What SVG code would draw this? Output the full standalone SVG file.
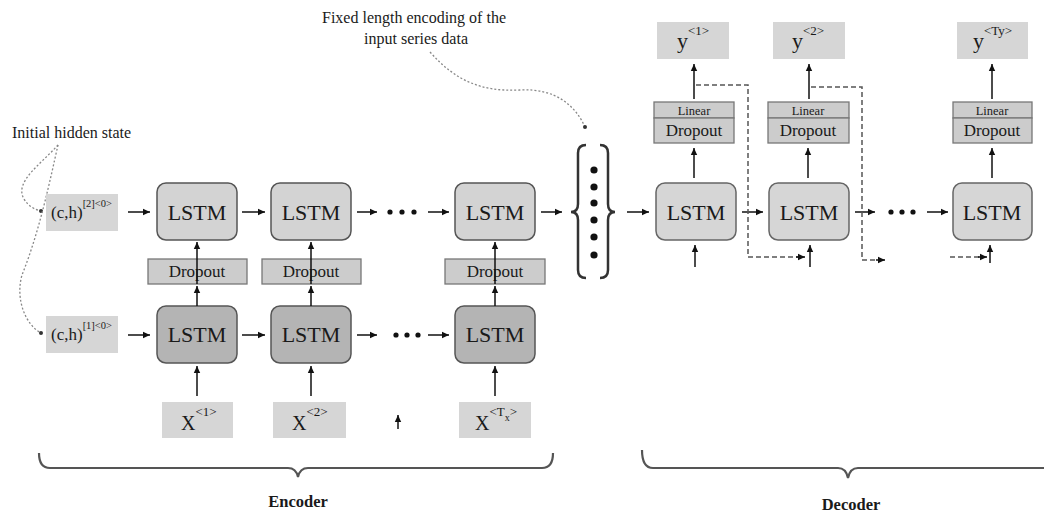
<svg xmlns="http://www.w3.org/2000/svg" width="1044" height="515" viewBox="0 0 1044 515">
<defs>
<marker id="ah" markerUnits="userSpaceOnUse" markerWidth="8" markerHeight="8" refX="7" refY="4" orient="auto"><path d="M0,0.8 L7,4 L0,7.2 Z" fill="#111"/></marker>
<marker id="dot" markerUnits="userSpaceOnUse" markerWidth="6" markerHeight="6" refX="3" refY="3"><circle cx="3" cy="3" r="2" fill="#333"/></marker>
<style>
text{font-family:"Liberation Serif","Times New Roman",serif;fill:#1a1a1a}
.lstmU{fill:#d3d3d3;stroke:#555;stroke-width:1.5}
.lstmL{fill:#b4b4b4;stroke:#555;stroke-width:1.5}
.lstmD{fill:#d6d6d6;stroke:#666;stroke-width:1.5}
.lbl{fill:#d6d6d6}
.drop{fill:#cccccc;stroke:#777;stroke-width:1.3}
.t22{font-size:22px;text-anchor:middle}
.t17{font-size:17px;text-anchor:middle}
.arr{stroke:#111;stroke-width:1.5;fill:none;marker-end:url(#ah)}
.dash{stroke:#555;stroke-width:1.5;fill:none;stroke-dasharray:5 3}
.dotted{stroke:#888;stroke-width:1.3;fill:none;stroke-dasharray:2 2}
.brk{stroke:#555;stroke-width:2.2;fill:none}
</style>
</defs>
<rect width="1044" height="515" fill="#fff"/>

<!-- annotations -->
<g id="annot-initial">
<text x="12" y="138" style="font-size:16px">Initial hidden state</text>
<path class="dotted" d="M58,145 C40,165 14,182 24,199 C29,207 36,210 41,211" marker-end="url(#dot)"/>
<path class="dotted" d="M58,145 C50,180 40,230 22,275 C15,300 26,325 41,333" marker-end="url(#dot)"/>
</g>
<g id="annot-fixed">
<text x="414" y="23" style="font-size:16px;text-anchor:middle">Fixed length encoding of  the</text>
<text x="416" y="44" style="font-size:16px;text-anchor:middle">input series data</text>
<path class="dotted" d="M430,52 C455,80 480,92 520,90 C555,88 575,105 585,127" marker-end="url(#dot)"/>
</g>

<!-- encoder nodes -->
<g id="ch2"><rect class="lbl" x="46" y="194" width="72" height="37"/><text x="51" y="218" style="font-size:17px">(c,h)<tspan dy="-11" style="font-size:10.5px">[2]&lt;0&gt;</tspan></text></g>
<g id="ch1"><rect class="lbl" x="46" y="316" width="72" height="37"/><text x="51" y="340" style="font-size:17px">(c,h)<tspan dy="-11" style="font-size:10.5px">[1]&lt;0&gt;</tspan></text></g>

<g id="encU1"><rect class="lstmU" x="157" y="183" width="80" height="57" rx="9"/><text class="t22" x="197" y="220">LSTM</text></g>
<g id="encU2"><rect class="lstmU" x="271" y="183" width="80" height="57" rx="9"/><text class="t22" x="311" y="220">LSTM</text></g>
<g id="encU3"><rect class="lstmU" x="455" y="183" width="80" height="57" rx="9"/><text class="t22" x="495" y="220">LSTM</text></g>

<g id="encD1"><rect class="drop" x="148" y="259" width="99" height="25"/><text class="t17" x="197" y="277">Dropout</text></g>
<g id="encD2"><rect class="drop" x="262" y="259" width="99" height="25"/><text class="t17" x="311" y="277">Dropout</text></g>
<g id="encD3"><rect class="drop" x="445" y="259" width="100" height="25"/><text class="t17" x="495" y="277">Dropout</text></g>

<g id="encL1"><rect class="lstmL" x="157" y="306" width="80" height="57" rx="9"/><text class="t22" x="197" y="342">LSTM</text></g>
<g id="encL2"><rect class="lstmL" x="271" y="306" width="80" height="57" rx="9"/><text class="t22" x="311" y="342">LSTM</text></g>
<g id="encL3"><rect class="lstmL" x="455" y="306" width="80" height="57" rx="9"/><text class="t22" x="495" y="342">LSTM</text></g>

<g id="x1"><rect class="lbl" x="162" y="402" width="71" height="36"/><text x="181" y="430" style="font-size:20px">X<tspan dy="-14" style="font-size:13px">&lt;1&gt;</tspan></text></g>
<g id="x2"><rect class="lbl" x="273" y="402" width="73" height="36"/><text x="292" y="430" style="font-size:20px">X<tspan dy="-14" style="font-size:13px">&lt;2&gt;</tspan></text></g>
<g id="xT"><rect class="lbl" x="459" y="402" width="72" height="36"/><text x="475" y="430" style="font-size:20px">X<tspan dy="-14" style="font-size:13px">&lt;T</tspan><tspan dy="5" style="font-size:10px">x</tspan><tspan dy="-5" style="font-size:13px">&gt;</tspan></text></g>

<g id="encoding">
<path class="brk" style="stroke:#333;stroke-width:2.5" d="M586,145 Q578,145 578,153 V204 Q578,212 571,212 Q578,212 578,220 V270 Q578,278 586,278"/>
<path class="brk" style="stroke:#333;stroke-width:2.5" d="M600,145 Q608,145 608,153 V204 Q608,212 615,212 Q608,212 608,220 V270 Q608,278 600,278"/>
<g fill="#111"><circle cx="594" cy="170" r="3.6"/><circle cx="594" cy="187" r="3.6"/><circle cx="594" cy="203" r="3.6"/><circle cx="594" cy="220" r="3.6"/><circle cx="594" cy="237" r="3.6"/><circle cx="594" cy="255" r="3.6"/></g>
</g>

<!-- decoder nodes -->
<g id="decL1"><rect class="lstmD" x="656" y="183" width="80" height="57" rx="9"/><text class="t22" x="696" y="220">LSTM</text></g>
<g id="decL2"><rect class="lstmD" x="769" y="183" width="80" height="57" rx="9"/><text class="t22" x="809" y="220">LSTM</text></g>
<g id="decL3"><rect class="lstmD" x="953" y="183" width="79" height="57" rx="9"/><text class="t22" x="992" y="220">LSTM</text></g>

<g id="decD1"><rect class="drop" x="654" y="102" width="80" height="16"/><rect class="drop" x="654" y="118" width="80" height="25"/><text x="694" y="115" style="font-size:12.5px;text-anchor:middle">Linear</text><text class="t17" x="694" y="136">Dropout</text></g>
<g id="decD2"><rect class="drop" x="768" y="102" width="81" height="16"/><rect class="drop" x="768" y="118" width="81" height="25"/><text x="808" y="115" style="font-size:12.5px;text-anchor:middle">Linear</text><text class="t17" x="808" y="136">Dropout</text></g>
<g id="decD3"><rect class="drop" x="953" y="102" width="79" height="16"/><rect class="drop" x="953" y="118" width="79" height="25"/><text x="992" y="115" style="font-size:12.5px;text-anchor:middle">Linear</text><text class="t17" x="992" y="136">Dropout</text></g>

<g id="y1"><rect class="lbl" x="657" y="22" width="72" height="37"/><text x="677" y="48" style="font-size:22px">y<tspan dy="-13" style="font-size:13px">&lt;1&gt;</tspan></text></g>
<g id="y2"><rect class="lbl" x="773" y="22" width="72" height="37"/><text x="792" y="48" style="font-size:22px">y<tspan dy="-13" style="font-size:13px">&lt;2&gt;</tspan></text></g>
<g id="yT"><rect class="lbl" x="957" y="22" width="71" height="37"/><text x="973" y="48" style="font-size:22px">y<tspan dy="-13" style="font-size:13px">&lt;Ty&gt;</tspan></text></g>

<!-- connectors -->
<g id="connectors">
<path class="arr" d="M128,212 H150"/>
<path class="arr" d="M242,212 H265"/>
<path class="arr" d="M357,212 H377"/>
<path class="arr" d="M428,212 H449"/>
<path class="arr" d="M541,212 H562"/>
<path class="arr" d="M128,335 H150"/>
<path class="arr" d="M242,335 H265"/>
<path class="arr" d="M357,335 H377"/>
<path class="arr" d="M428,335 H449"/>
<path class="arr" d="M197,306 V286"/><path class="arr" d="M197,284 V242"/>
<path class="arr" d="M311,306 V286"/><path class="arr" d="M311,284 V242"/>
<path class="arr" d="M495,306 V286"/><path class="arr" d="M495,284 V242"/>
<path class="arr" d="M197,396 V366"/>
<path class="arr" d="M311,396 V366"/>
<path class="arr" d="M495,396 V366"/>
<path class="arr" d="M398,429 V415"/>
<g fill="#111"><circle cx="390" cy="212" r="2.6"/><circle cx="402" cy="212" r="2.6"/><circle cx="414" cy="212" r="2.6"/>
<circle cx="396" cy="335" r="2.6"/><circle cx="407" cy="335" r="2.6"/><circle cx="418" cy="335" r="2.6"/>
<circle cx="891" cy="212" r="2.6"/><circle cx="902" cy="212" r="2.6"/><circle cx="913" cy="212" r="2.6"/></g>

<path class="arr" d="M627,212 H649"/>
<path class="arr" d="M742,212 H763"/>
<path class="arr" d="M855,212 H875"/>
<path class="arr" d="M927,212 H948"/>
<path class="arr" d="M695,267 V245"/>
<path class="arr" d="M810,267 V245"/>
<path class="arr" d="M990,263 V245"/>
<path class="arr" d="M694,178 V148"/>
<path class="arr" d="M808,178 V148"/>
<path class="arr" d="M992,178 V148"/>
<path class="arr" d="M694,99 V64"/>
<path class="arr" d="M809,99 V64"/>
<path class="arr" d="M992,99 V64"/>
<path class="dash" d="M696,85 H748 V257 H801"/><path class="arr" d="M796,257 H805"/>
<path class="dash" d="M811,87 H862 V260 H880"/><path class="arr" d="M876,260 H885"/>
<path class="dash" d="M950,257 H980"/><path class="arr" d="M978,257 H987"/>
</g>

<!-- section braces -->
<g id="encoder-brace">
<path class="brk" d="M39,453 Q39,468 50,468 H288 Q296,468 298,477 Q300,468 308,468 H542 Q553,468 553,453"/>
<text x="298" y="507" style="font-size:16.5px;font-weight:bold;text-anchor:middle">Encoder</text>
</g>
<g id="decoder-brace">
<path class="brk" d="M642,450 Q642,468 653,468 H838 Q846,468 848,478 Q850,468 858,468 H1044"/>
<text x="851" y="510" style="font-size:16.5px;font-weight:bold;text-anchor:middle">Decoder</text>
</g>
</svg>
